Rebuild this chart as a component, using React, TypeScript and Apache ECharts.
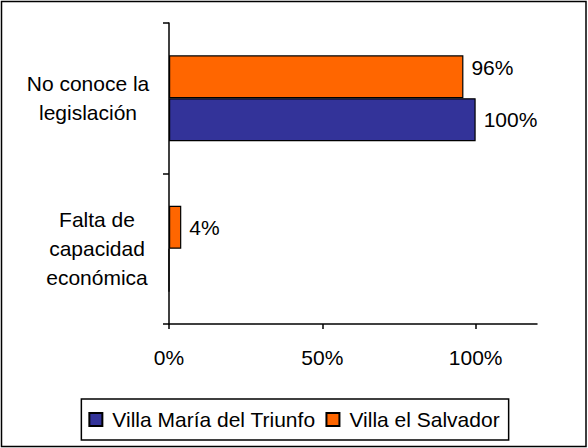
import React, { useEffect, useRef } from 'react';
import * as echarts from 'echarts';

const categories = ['Falta de\ncapacidad\neconómica', 'No conoce la\nlegislación'];
const seriesNames = ['Villa María del Triunfo', 'Villa el Salvador'];
const vmtValues = [0, 100];
const vesValues = [4, 96];
const xTicks = [0, 50, 100];

export default function App() {
  const ref = useRef<HTMLDivElement>(null);
  useEffect(() => {
    const chart = echarts.init(ref.current!, null, { renderer: 'svg' });
    const font = '"Liberation Sans", Arial, sans-serif';
    const fs = 21;
    const labelCommon = {
      show: true,
      position: 'right',
      distance: 8,
      fontSize: fs,
      color: '#000',
      fontFamily: font,
      formatter: (p: any) => (p.value ? p.value + '%' : ''),
    };
    const axisLineStyle = { color: '#000', width: 1.5 };
    chart.setOption({
      animation: false,
      backgroundColor: '#fff',
      textStyle: { fontFamily: font },
      graphic: [
        {
          type: 'rect',
          silent: true,
          shape: { x: 1.5, y: 1.5, width: 584.5, height: 445 },
          style: { fill: 'none', stroke: '#000', lineWidth: 1.5 },
        },
      ],
      grid: { left: 169, right: 51, top: 23, bottom: 124 },
      legend: {
        data: seriesNames,
        left: 'center',
        top: 399,
        orient: 'horizontal',
        itemWidth: 13,
        itemHeight: 13,
        itemGap: 10,
        icon: 'rect',
        borderColor: '#000',
        borderWidth: 1.5,
        padding: [10, 9, 10, 7],
        textStyle: { fontSize: fs, color: '#000', fontFamily: font, padding: [0, 0, 0, 5] },
      },
      xAxis: {
        type: 'value',
        min: 0,
        max: 120,
        axisLine: { show: true, lineStyle: axisLineStyle },
        axisTick: { show: true, length: 5, lineStyle: axisLineStyle, customValues: xTicks },
        splitLine: { show: false },
        axisLabel: {
          customValues: xTicks,
          formatter: (v: number) => v + '%',
          fontSize: fs,
          color: '#000',
          fontFamily: font,
          margin: 23,
        },
      },
      yAxis: {
        type: 'category',
        data: categories,
        axisLine: { show: true, lineStyle: axisLineStyle },
        axisTick: { show: true, length: 6, lineStyle: axisLineStyle },
        axisLabel: {
          margin: 18,
          color: '#000',
          fontSize: fs,
          fontFamily: font,
          formatter: (v: string, i: number) => {
            const s = i === 1 ? 'a' : 'b';
            return v.split('\n').map((l) => `{${s}|${l}}`).join('\n');
          },
          rich: {
            a: { width: 126, align: 'center', fontSize: fs, lineHeight: 29, color: '#000', fontFamily: font },
            b: { width: 108, align: 'center', fontSize: fs, lineHeight: 29, color: '#000', fontFamily: font },
          },
        },
      },
      series: [
        {
          name: seriesNames[1],
          type: 'bar',
          data: vesValues.map((v, i) => (i === 1 ? { value: v, label: { offset: [0, -9] } } : v)),
          barGap: '0%',
          barCategoryGap: '43%',
          itemStyle: { color: '#FF6600', borderColor: '#000', borderWidth: 1.2 },
          label: labelCommon,
        },
        {
          name: seriesNames[0],
          type: 'bar',
          data: vmtValues,
          barGap: '0%',
          barCategoryGap: '43%',
          itemStyle: { color: '#333399', borderColor: '#000', borderWidth: 1.2 },
          label: labelCommon,
        },
      ],
    });
    return () => chart.dispose();
  }, []);
  return <div ref={ref} style={{ position: 'absolute', left: 0, top: 0, width: 588, height: 448 }} />;
}
